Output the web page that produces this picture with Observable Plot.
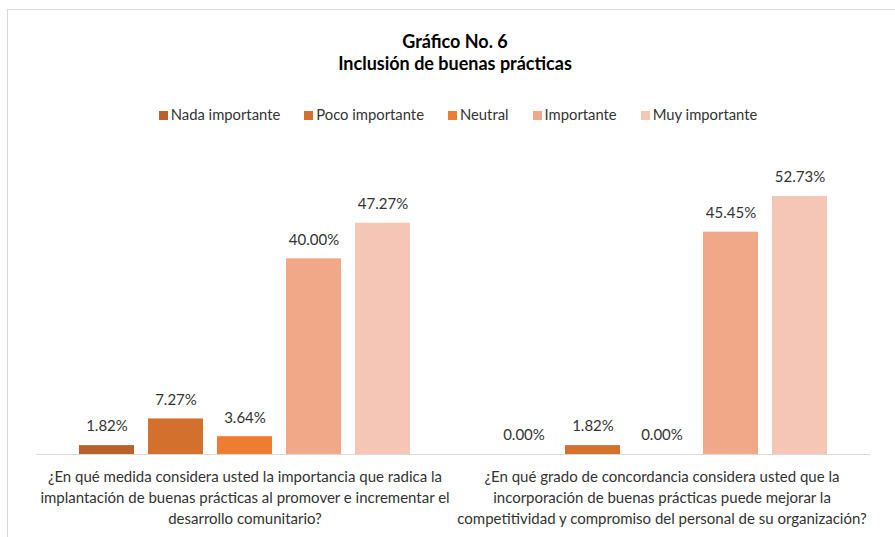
<!DOCTYPE html>
<html>
<head>
<meta charset="utf-8">
<script src="https://cdn.jsdelivr.net/npm/d3@7"></script>
<script src="https://cdn.jsdelivr.net/npm/@observablehq/plot@0.6"></script>
<style>
  body { margin:0; background:#fff; overflow:hidden; font-family: Lato, "Open Sans", sans-serif; color:#333; }
  #frame { position:absolute; left:7px; top:9px; width:1000px; height:1000px; border:1px solid #d9d9d9; }
  #title { position:absolute; left:15px; width:880px; top:30px; text-align:center; font-weight:bold; font-size:18px; line-height:22px; color:#000; }
  #legend { position:absolute; left:21px; width:874px; top:104px; text-align:center; font-size:14.8px; line-height:20px; color:#333; }
  .item { display:inline-block; margin:0 12px; white-space:nowrap; }
  .sw { display:inline-block; width:9px; height:9px; margin-right:3px; vertical-align:0px; }
  #chart { position:absolute; left:0; top:130px; }
</style>
</head>
<body>
<div id="frame"></div>
<div id="title">Gráfico No. 6<br>Inclusión de buenas prácticas</div>
<div id="legend"></div>
<div id="chart"></div>
<script>
const categories = ["Nada importante", "Poco importante", "Neutral", "Importante", "Muy importante"];
const colors = ["#b9612b", "#d3702d", "#ed7d31", "#f0a889", "#f5c6b5"];
const questions = [
  "¿En qué medida considera usted la importancia que radica la implantación de buenas prácticas al promover e incrementar el desarrollo comunitario?",
  "¿En qué grado de concordancia considera usted que la incorporación de buenas prácticas puede mejorar la competitividad y compromiso del personal de su organización?"
];
const questionLabels = [
  "¿En qué medida considera usted la importancia que radica la\nimplantación de buenas prácticas al promover e incrementar el\ndesarrollo comunitario?",
  "¿En qué grado de concordancia considera usted que la\nincorporación de buenas prácticas puede mejorar la\ncompetitividad y compromiso del personal de su organización?"
];
const valuesQ1 = [1.82, 7.27, 3.64, 40.00, 47.27];
const valuesQ2 = [0.00, 1.82, 0.00, 45.45, 52.73];

const data = [];
[valuesQ1, valuesQ2].forEach((vals, qi) => {
  vals.forEach((v, ci) => data.push({q: questions[qi], cat: categories[ci], v}));
});

const legend = document.getElementById("legend");
categories.forEach((c, i) => {
  const s = document.createElement("span");
  s.className = "item";
  s.innerHTML = `<span class="sw" style="background:${colors[i]}"></span>${c}`;
  legend.appendChild(s);
});

const chart = Plot.plot({
  width: 895,
  height: 407,
  marginTop: 30.5,
  marginBottom: 83,
  marginLeft: 35,
  marginRight: 24.5,
  style: {fontFamily: "Lato, 'Open Sans', sans-serif", color: "#333", background: "transparent"},
  fx: {domain: questions, padding: 0, label: null},
  x: {domain: categories, paddingInner: 0.2, paddingOuter: 0.579, axis: null},
  y: {domain: [0, 60], axis: null},
  color: {domain: categories, range: colors},
  marks: [
    Plot.barY(data, {fx: "q", x: "cat", y: "v", fill: "cat"}),
    Plot.ruleY([0], {stroke: "#d9d9d9", strokeWidth: 1}),
    Plot.text(data, {fx: "q", x: "cat", y: "v", text: d => d.v.toFixed(2) + "%", dy: -19, fontSize: 15, fill: "#333"}),
    Plot.axisFx({anchor: "bottom", tickSize: 0, tickPadding: 13, fontSize: 15, lineHeight: 1.4, label: null,
      tickFormat: d => questionLabels[questions.indexOf(d)], fill: "#333"})
  ]
});
document.getElementById("chart").appendChild(chart);
</script>
</body>
</html>
